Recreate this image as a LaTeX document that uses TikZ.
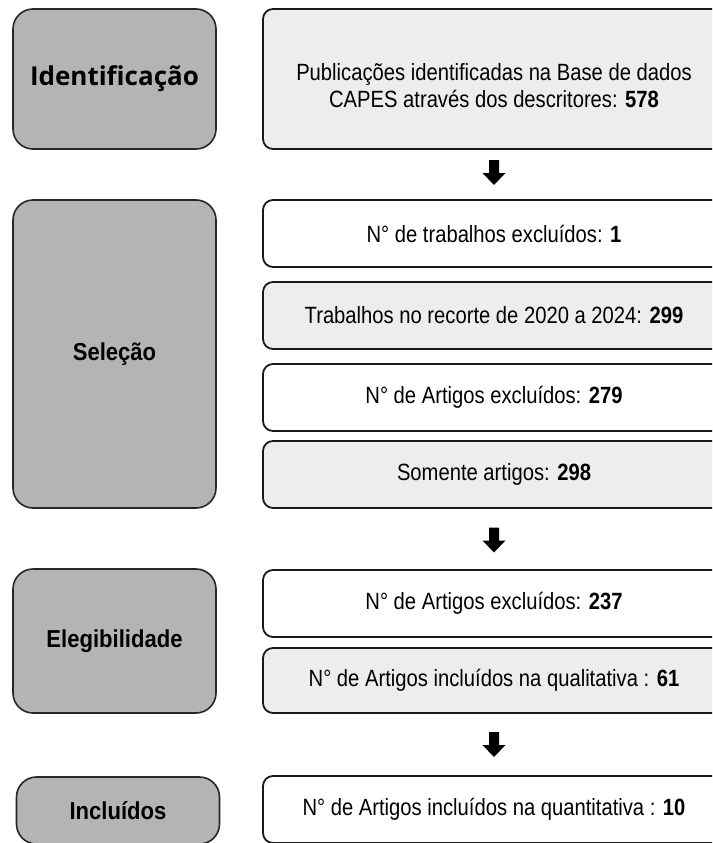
\documentclass[tikz,border=0pt]{standalone}
\usepackage{fontspec}
\setmainfont{Liberation Sans}
\newfontfamily\bodyfont[FakeStretch=0.86]{Liberation Sans}
\newfontfamily\headfont[FakeStretch=0.9]{Liberation Sans}
\newfontfamily\idfont{Open Sans}
\usetikzlibrary{calc}
\definecolor{leftgray}{HTML}{B4B4B4}
\definecolor{paleg}{HTML}{EDEDED}
\begin{document}
\begin{tikzpicture}[x=1pt,y=-1pt,
  leftbox/.style={draw=black!85, line width=1.6pt, fill=leftgray, rounded corners=20pt,
    minimum width=203pt, inner sep=0pt, font=\headfont\bfseries\fontsize{24.5}{28}\selectfont},
  rbox/.style={draw=black!90, line width=1.8pt, rounded corners=10pt,
    minimum width=462pt, inner sep=0pt, align=center, font=\bodyfont\fontsize{23.5}{27}\selectfont},
  blockarr/.pic={\fill[black] (-5,-12.5) -- (5,-12.5) -- (5,0.5) -- (11.5,0.5) -- (0,12.5)
    -- (-11.5,0.5) -- (-5,0.5) -- cycle;}]
\clip (0,0) rectangle (712,843);
\fill[white] (0,0) rectangle (712,843);
% left column
\node[leftbox, minimum height=140pt] (l1) at (114.5,79)
  {\idfont\bfseries\fontsize{26}{30}\selectfont Identificação};
\node[leftbox, minimum height=308pt] (l2) at (114.5,354) {Seleção};
\node[leftbox, minimum height=144pt] (l3) at (114.5,641) {Elegibilidade};
\node[leftbox, minimum height=67pt] (l4) at (118,810.5) {Incluídos};
% right column
\node[rbox, fill=paleg, minimum height=140pt] (r1) at (494,79)
  {\rule{0pt}{31pt}Publicações identificadas na Base de dados\\CAPES através dos descritores: \textbf{578}};
\node[rbox, fill=white, minimum height=67pt] (r2) at (494,233.5) {N° de trabalhos excluídos: \textbf{1}};
\node[rbox, fill=paleg, minimum height=67pt] (r3) at (494,315.5) {Trabalhos no recorte de 2020 a 2024: \textbf{299}};
\node[rbox, fill=white, minimum height=67pt] (r4) at (494,397.5) {N° de Artigos excluídos: \textbf{279}};
\node[rbox, fill=paleg, minimum height=67pt] (r5) at (494,474.5) {Somente artigos: \textbf{298}};
\node[rbox, fill=white, minimum height=67pt] (r6) at (494,603.5) {N° de Artigos excluídos: \textbf{237}};
\node[rbox, fill=paleg, minimum height=65pt] (r7) at (494,680.5) {N° de Artigos incluídos na qualitativa : \textbf{61}};
\node[rbox, fill=white, minimum height=67pt] (r8) at (494,809.5) {N° de Artigos incluídos na quantitativa : \textbf{10}};
% arrows
\pic (a1) at ($(r1.south)!0.5!(r2.north)+(0,-2)$) {blockarr};
\pic (a2) at ($(r5.south)!0.5!(r6.north)+(0,1)$) {blockarr};
\pic (a3) at ($(r7.south)!0.5!(r8.north)$) {blockarr};
\end{tikzpicture}
\end{document}
